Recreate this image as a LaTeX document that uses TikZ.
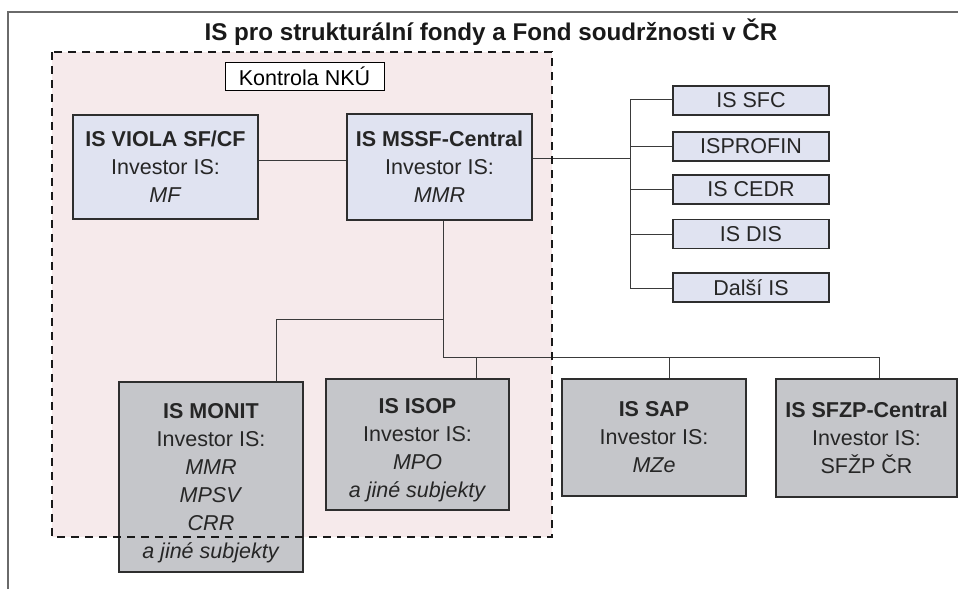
\documentclass[tikz,border=0pt]{standalone}
\usepackage{fontspec}
\setmainfont{Liberation Sans}
\definecolor{bluefill}{HTML}{E0E3F1}
\definecolor{grayfill}{HTML}{C5C6CA}
\definecolor{pinkfill}{HTML}{F6EAEB}
\definecolor{boxline}{HTML}{2E2E2E}
\definecolor{conn}{HTML}{3A3A3A}
\definecolor{frame}{HTML}{6A6A6A}
\newcommand{\fsz}{\fontsize{21.5}{28}\selectfont}
\tikzset{
  bx/.style={draw=boxline, line width=1.3pt, inner sep=0pt, align=center, font=\fsz, text=black!85},
  bluebox/.style={bx, fill=bluefill},
  graybox/.style={bx, fill=grayfill},
  connector/.style={draw=conn, line width=1pt},
}
\begin{document}
\begin{tikzpicture}[x=1pt,y=-1pt]
\useasboundingbox (0,0) rectangle (958,589);
% pink region
\fill[pinkfill] (52,52) rectangle (552,537);
% outer frame
\draw[frame, line width=1.5pt] (8,589) -- (8,12) -- (958,12);
% title
\node[font=\fontsize{24.2}{28}\selectfont\bfseries, text=black!90] (title) at (491,32) {IS pro strukturální fondy a Fond soudržnosti v ČR};

% coordinates for connectors
\coordinate (j1) at (0,160);
\coordinate (tmid) at (630,158);
\coordinate (ttop) at (630,99);
\coordinate (tbot) at (630,288);
\coordinate (hubA) at (443,319);
\coordinate (hubB) at (443,357);
\coordinate (mdrop) at (276,319);
\coordinate (idrop) at (476,357);
\coordinate (pdrop) at (669,357);
\coordinate (sdrop) at (879,357);

% nodes
\node[draw=black, line width=1pt, fill=white, minimum width=159pt, minimum height=28pt, inner sep=0pt, font=\fsz] (nku) at (304.5,76) {Kontrola NKÚ};
\node[bluebox, minimum width=185pt, minimum height=104pt] (viola) at (165.5,167) {\textbf{IS VIOLA SF/CF}\\Investor IS:\\\textit{MF}};
\node[bluebox, minimum width=185pt, minimum height=106pt] (mssf) at (439.5,167) {\textbf{IS MSSF-Central}\\Investor IS:\\\textit{MMR}};

\node[bluebox, minimum width=156pt, minimum height=29pt] (sfc) at (751,100.5) {IS SFC};
\node[bluebox, minimum width=156pt, minimum height=29pt] (profin) at (751,146.5) {ISPROFIN};
\node[bluebox, minimum width=156pt, minimum height=29pt] (cedr) at (751,189.5) {IS CEDR};
\node[bluebox, minimum width=156pt, minimum height=29pt] (dis) at (751,234) {IS DIS};
\node[bluebox, minimum width=156pt, minimum height=29pt] (dalsi) at (751,287.5) {Další IS};

\node[graybox, minimum width=184pt, minimum height=190pt] (monit) at (211,477) {};
\node[align=center, font=\fsz, text=black!85, inner sep=0pt] (monittxt) at (211,483) {\textbf{IS MONIT}\\Investor IS:\\\textit{MMR}\\\textit{MPSV}\\\textit{CRR}\\\textit{a jiné subjekty}};
\node[graybox, minimum width=183pt, minimum height=131pt] (isop) at (417.5,444.5) {};
\node[align=center, font=\fsz, text=black!85, inner sep=0pt] (isoptxt) at (417.5,450) {\textbf{IS ISOP}\\Investor IS:\\\textit{MPO}\\\textit{a jiné subjekty}};
\node[graybox, minimum width=184pt, minimum height=117pt] (sap) at (654,437.5) {\textbf{IS SAP}\\Investor IS:\\\textit{MZe}};
\node[graybox, minimum width=181pt, minimum height=118pt] (sfzp) at (866.5,438) {\textbf{IS SFZP-Central}\\Investor IS:\\SFŽP ČR};

% connectors
\draw[connector] (viola.east |- j1) -- (mssf.west |- j1);
\draw[connector] (mssf.east |- tmid) -- (tmid);
\draw[connector] (ttop) -- (tbot);
\draw[connector] (ttop) -- (sfc.west |- ttop);
\draw[connector] (tmid |- profin.west) -- (profin.west);
\draw[connector] (tmid |- cedr.west) -- (cedr.west);
\draw[connector] (tmid |- dis.west) -- (dis.west);
\draw[connector] (tbot) -- (dalsi.west |- tbot);
\draw[connector] (mssf.south -| hubA) -- (hubB);
\draw[connector] (hubA) -- (mdrop) -- (mdrop |- monit.north);
\draw[connector] (hubB) -- (sdrop) -- (sdrop |- sfzp.north);
\draw[connector] (idrop) -- (idrop |- isop.north);
\draw[connector] (pdrop) -- (pdrop |- sap.north);

% dashed border on top
\draw[black!90, line width=2.8pt, dash pattern=on 8pt off 6pt] (52,52) rectangle (552,537);
\end{tikzpicture}
\end{document}
